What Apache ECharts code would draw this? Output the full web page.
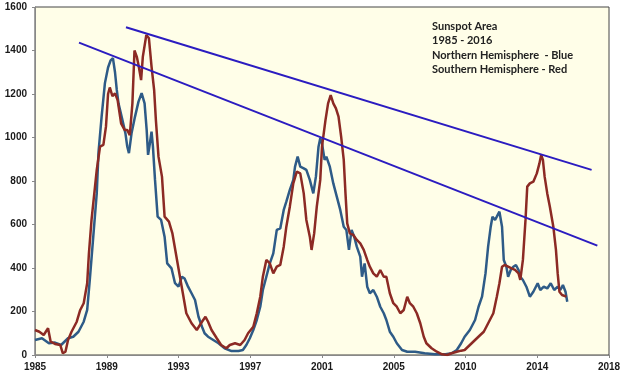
<!DOCTYPE html>
<html>
<head>
<meta charset="utf-8">
<script src="https://cdn.jsdelivr.net/npm/echarts@6/dist/echarts.min.js"></script>
<style>
html,body{margin:0;padding:0;background:#fff;}
#chart{width:624px;height:380px;}
</style>
</head>
<body>
<div id="chart"></div>
<script>
// ---- Data ----
const xTickLabels = ['1985','1989','1993','1997','2001','2005','2010','2014','2018'];
const yearStart = 1985;
const yearEnd = 2018;

const northYears = [1985.0,1985.4,1985.8,1986.15,1986.5,1986.9,1987.2,1987.5,1987.8,1988.0,1988.15,1988.35,1988.55,1988.65,1988.83,1989.02,1989.2,1989.35,1989.48,1989.6,1989.7,1989.8,1990.0,1990.2,1990.3,1990.4,1990.55,1990.75,1990.95,1991.13,1991.3,1991.42,1991.5,1991.58,1991.7,1991.78,1991.9,1992.05,1992.25,1992.45,1992.6,1992.85,1993.05,1993.25,1993.45,1993.6,1993.8,1994.0,1994.2,1994.4,1994.6,1994.75,1994.95,1995.25,1995.55,1995.9,1996.3,1996.7,1996.95,1997.15,1997.35,1997.55,1997.75,1997.95,1998.1,1998.3,1998.5,1998.7,1998.9,1999.1,1999.3,1999.45,1999.65,1999.85,1999.95,2000.1,2000.25,2000.45,2000.6,2000.8,2001.0,2001.15,2001.3,2001.4,2001.5,2001.65,2001.75,2001.95,2002.15,2002.35,2002.55,2002.75,2002.9,2003.05,2003.2,2003.35,2003.5,2003.7,2003.8,2003.95,2004.1,2004.25,2004.45,2004.65,2004.85,2005.05,2005.2,2005.4,2005.6,2005.8,2006.1,2006.4,2006.85,2007.4,2008.0,2008.6,2008.95,2009.25,2009.5,2009.7,2010.0,2010.3,2010.5,2010.7,2010.9,2011.05,2011.2,2011.3,2011.45,2011.55,2011.7,2011.85,2011.95,2012.1,2012.2,2012.35,2012.5,2012.65,2012.8,2012.9,2013.05,2013.25,2013.45,2013.65,2013.9,2014.05,2014.25,2014.45,2014.65,2014.85,2015.05,2015.2,2015.35,2015.5,2015.6];
const northArea = [69,77,54,57,46,77,84,107,153,207,345,544,743,930,1096,1250,1322,1355,1365,1300,1220,1157,1090,1019,960,928,1019,1096,1165,1204,1157,1035,920,960,1027,958,805,636,621,544,421,398,330,314,360,352,314,284,253,176,130,100,84,69,54,31,18,18,23,46,77,115,161,222,299,360,421,467,575,582,667,705,759,805,866,912,866,858,851,805,743,820,958,996,973,897,912,866,789,728,667,590,575,483,575,544,498,452,360,421,314,284,299,268,222,192,161,107,84,54,23,15,15,8,3,3,8,23,54,84,115,161,222,268,375,498,590,636,621,636,659,590,437,406,360,391,406,414,391,360,345,314,268,291,330,299,314,306,330,299,314,299,322,291,245];

const southYears = [1985.0,1985.25,1985.5,1985.75,1985.9,1986.15,1986.45,1986.6,1986.75,1986.9,1987.1,1987.4,1987.6,1987.8,1988.0,1988.1,1988.25,1988.45,1988.55,1988.74,1988.93,1989.08,1989.2,1989.3,1989.45,1989.6,1989.75,1989.95,1990.15,1990.3,1990.45,1990.6,1990.72,1990.85,1990.95,1991.1,1991.2,1991.4,1991.55,1991.7,1991.85,1991.95,1992.1,1992.3,1992.45,1992.7,1992.9,1993.1,1993.3,1993.5,1993.7,1994.0,1994.3,1994.6,1994.8,1994.95,1995.15,1995.45,1995.7,1996.0,1996.2,1996.5,1996.8,1997.05,1997.25,1997.55,1997.75,1997.95,1998.1,1998.3,1998.5,1998.7,1998.9,1999.1,1999.3,1999.45,1999.65,1999.85,2000.05,2000.25,2000.45,2000.6,2000.8,2000.9,2001.05,2001.2,2001.4,2001.5,2001.7,2001.85,2002.0,2002.15,2002.3,2002.45,2002.6,2002.75,2002.85,2002.95,2003.1,2003.3,2003.5,2003.7,2003.9,2004.1,2004.25,2004.45,2004.65,2004.85,2005.05,2005.2,2005.4,2005.6,2005.8,2006.0,2006.2,2006.4,2006.55,2006.75,2006.95,2007.15,2007.35,2007.5,2007.8,2008.1,2008.4,2008.7,2008.95,2009.25,2009.5,2009.7,2010.0,2010.3,2010.6,2010.8,2010.95,2011.15,2011.35,2011.55,2011.7,2011.85,2012.0,2012.2,2012.4,2012.6,2012.8,2012.9,2013.05,2013.2,2013.3,2013.45,2013.65,2013.85,2014.0,2014.1,2014.2,2014.3,2014.45,2014.6,2014.8,2014.95,2015.05,2015.15,2015.3,2015.4,2015.55];
const southArea = [115,107,92,123,61,51,46,8,15,69,107,153,207,238,330,467,621,774,851,958,966,1050,1200,1230,1190,1203,1172,1065,1035,1035,1011,1157,1400,1372,1333,1264,1372,1471,1456,1326,1218,1080,912,820,636,613,559,467,375,284,192,146,115,153,176,153,115,77,46,31,46,54,46,69,100,130,192,268,360,437,421,375,406,414,498,590,682,789,843,835,743,621,544,483,559,682,805,958,1080,1157,1195,1157,1134,1096,1004,897,743,605,559,552,529,513,483,437,406,375,360,391,360,360,284,238,222,192,207,268,238,222,192,146,84,54,31,15,3,0,8,15,20,23,46,69,92,107,130,161,192,268,330,406,414,406,398,391,375,345,437,621,774,789,797,835,881,920,897,820,743,682,590,483,375,291,276,284,268];

// Hand-drawn trend lines (start/end year and value)
const upperTrendYears = [1990.23, 2017.0];
const upperTrendArea = [1507, 851];
const lowerTrendYears = [1987.53, 2017.33];
const lowerTrendArea = [1436, 503];

const noteLines = ['Sunspot Area','1985 - 2016','Northern Hemisphere  - Blue','Southern Hemisphere - Red'];

// ---- Build chart ----
const pairs = (xs, ys) => xs.map((x, i) => [x - yearStart, ys[i]]);
const span = yearEnd - yearStart;
const xInterval = span / (xTickLabels.length - 1);

const chart = echarts.init(document.getElementById('chart'), null, {renderer: 'canvas'});
const labelFont = {fontFamily: 'Liberation Sans, Arial, sans-serif', fontWeight: 'bold', fontSize: 10, color: '#1a1a1a'};

chart.setOption({
  animation: false,
  backgroundColor: '#ffffff',
  grid: {left: 35, right: 15, top: 7, bottom: 25, show: true, backgroundColor: '#FFFEE8', borderColor: '#444', borderWidth: 1},
  xAxis: {
    type: 'value', min: 0, max: span, interval: xInterval,
    splitLine: {show: false},
    axisLine: {show: true, onZero: false, lineStyle: {color: '#888', width: 1}},
    axisTick: {show: true, length: 3, lineStyle: {color: '#888'}},
    axisLabel: Object.assign({margin: 7, formatter: v => xTickLabels[Math.round(v / xInterval)] || ''}, labelFont)
  },
  yAxis: {
    type: 'value', min: 0, max: 1600, interval: 200,
    splitLine: {show: false},
    axisLine: {show: true, lineStyle: {color: '#888', width: 1}},
    axisTick: {show: true, length: 3, lineStyle: {color: '#888'}},
    axisLabel: Object.assign({margin: 8, formatter: v => String(v)}, labelFont)
  },
  series: [
    {name: 'Northern Hemisphere', type: 'line', data: pairs(northYears, northArea), showSymbol: false, symbol: 'none',
     lineStyle: {color: '#2E5B87', width: 2.5}, z: 2},
    {name: 'Southern Hemisphere', type: 'line', data: pairs(southYears, southArea), showSymbol: false, symbol: 'none',
     lineStyle: {color: '#8C2A24', width: 2.5}, z: 3},
    {name: 'Upper trend', type: 'line', data: pairs(upperTrendYears, upperTrendArea), showSymbol: false, symbol: 'none',
     lineStyle: {color: '#2B1CC0', width: 2}, z: 4},
    {name: 'Lower trend', type: 'line', data: pairs(lowerTrendYears, lowerTrendArea), showSymbol: false, symbol: 'none',
     lineStyle: {color: '#2B1CC0', width: 2}, z: 4}
  ],
  graphic: [{
    type: 'text', left: 432, top: 19, z: 10,
    style: {text: noteLines.join('\n'), fill: '#222', font: 'bold 11px Lato, "Open Sans", sans-serif', lineHeight: 14.5}
  }]
});
</script>
</body>
</html>
